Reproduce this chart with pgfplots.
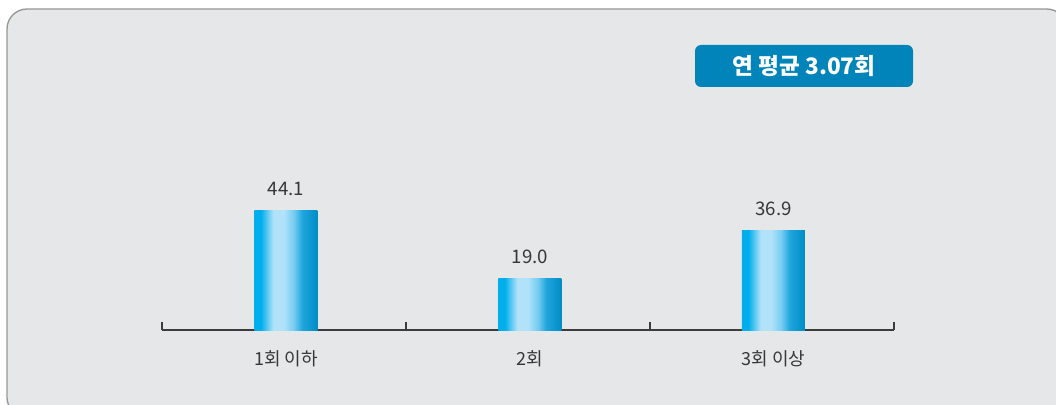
\documentclass[border=0pt]{standalone}
\usepackage{pgfplots}
\pgfplotsset{compat=1.18}
\usepackage{fontspec}
\setmainfont{Noto Sans CJK KR}
\definecolor{bg}{RGB}{230,231,233}
\definecolor{framec}{RGB}{150,150,150}
\definecolor{boxblue}{RGB}{0,132,185}
\definecolor{txt}{RGB}{55,55,55}
\definecolor{axisc}{RGB}{60,60,60}
\definecolor{b1}{RGB}{0,174,236}
\definecolor{b2}{RGB}{178,226,249}
\definecolor{b3}{RGB}{120,205,242}
\definecolor{b4}{RGB}{30,165,220}
\definecolor{b5}{RGB}{0,140,198}
\pgfdeclarehorizontalshading{barshade}{100bp}{color(0bp)=(b1); color(25bp)=(b1); color(30bp)=(b1); color(40bp)=(b2); color(48bp)=(b2); color(56bp)=(b3); color(63bp)=(b4); color(75bp)=(b5); color(100bp)=(b5)}
\begin{document}
\begin{tikzpicture}
\useasboundingbox (0pt,0pt) rectangle (792pt,303pt);
\begin{scope}
\clip (0pt,0pt) rectangle (792pt,303pt);
\draw[fill=bg, draw=framec, line width=1pt, rounded corners=15pt] (5.25pt,-10pt) rectangle (800pt,296.25pt);
\end{scope}
\node[fill=boxblue, rounded corners=4.5pt, minimum width=163.5pt, minimum height=31.5pt, inner sep=0pt, text=white, font=\fontsize{17}{20}\selectfont\bfseries] at (603pt,253.5pt) {연 평균 3.07회};
\begin{axis}[
  at={(121.5pt,55.5pt)}, anchor=south west, scale only axis,
  width=549pt, height=202.5pt,
  xmin=0, xmax=3, ymin=0, ymax=100,
  axis x line*=bottom, axis y line=none,
  axis line style={draw=axisc, line width=1pt, -},
  xtick={0,1,2,3}, xticklabels={}, tick align=inside, major tick length=6pt,
  tick style={draw=axisc, line width=1pt},
  extra x ticks={0.508,1.508,2.506},
  extra x tick labels={1회 이하,2회,3회 이상},
  extra x tick style={major tick length=0pt, tick style={draw=none}},
  xticklabel style={anchor=center, yshift=-21.75pt, text=txt, font=\fontsize{13.5}{16}\selectfont},
  /pgf/number format/assume math mode=true,
  clip=false, no markers,
  nodes near coords={\pgfmathprintnumber[fixed,fixed zerofill,precision=1]{\pgfplotspointmeta}},
  nodes near coords style={anchor=center, yshift=16.5pt, text=txt, font=\fontsize{14}{16}\selectfont},
  every axis plot/.append style={ybar, bar width=47.25pt, draw=none, shading=barshade, mark=none},
]
\addplot coordinates {(0.508,44.1)};
\addplot coordinates {(1.508,19.0)};
\addplot coordinates {(2.506,36.9)};
\end{axis}
\end{tikzpicture}
\end{document}
